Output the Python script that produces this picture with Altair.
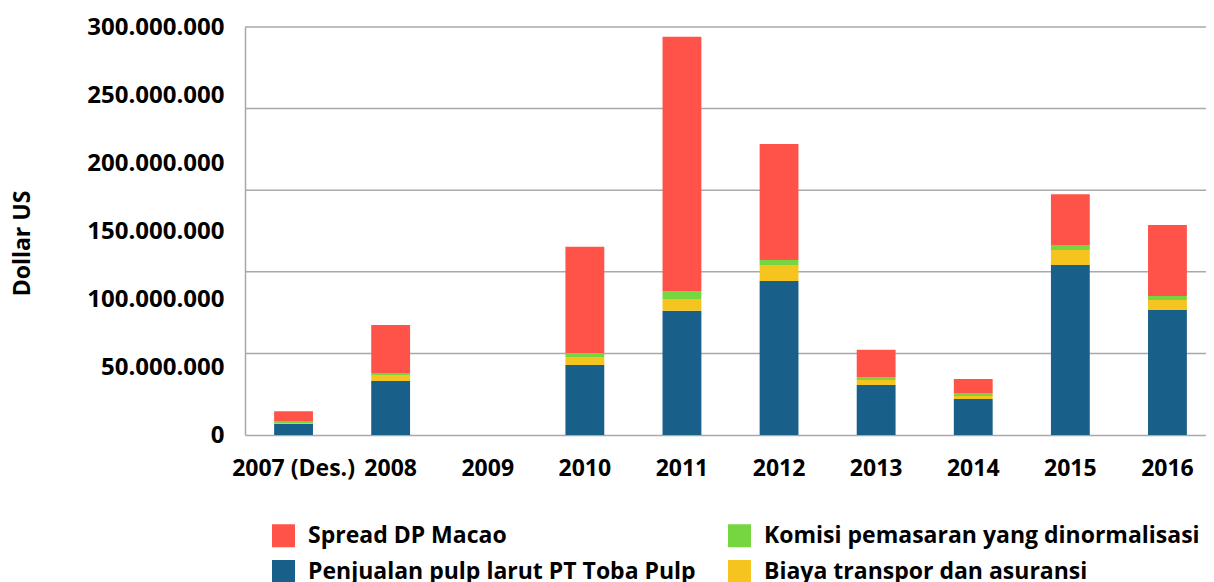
import altair as alt
import pandas as pd

years = ["2007 (Des.)", "2008", "2009", "2010", "2011", "2012", "2013", "2014", "2015", "2016"]
penjualan = [8.1, 39.7, 0, 51.5, 91.4, 113.2, 36.8, 26.5, 125.0, 91.9]
biaya = [0.7, 4.4, 0, 5.8, 8.6, 11.8, 3.7, 2.2, 11.0, 7.3]
komisi = [1.5, 1.5, 0, 3.0, 5.9, 3.7, 1.7, 2.2, 3.7, 3.0]
spread = [7.1, 35.3, 0, 78.1, 186.9, 85.2, 20.4, 10.3, 37.4, 52.2]

# legend order (filled column by column)
series_names = [
    "Spread DP Macao",
    "Penjualan pulp larut PT Toba Pulp",
    "Komisi pemasaran yang dinormalisasi",
    "Biaya transpor dan asuransi",
]
series_colors = ["#FF5349", "#186089", "#76D63F", "#F5C41F"]
stack_rank = {"Penjualan pulp larut PT Toba Pulp": 0, "Biaya transpor dan asuransi": 1,
              "Komisi pemasaran yang dinormalisasi": 2, "Spread DP Macao": 3}
series_values = {
    "Penjualan pulp larut PT Toba Pulp": penjualan,
    "Biaya transpor dan asuransi": biaya,
    "Komisi pemasaran yang dinormalisasi": komisi,
    "Spread DP Macao": spread,
}
y_ticks = [0, 50e6, 100e6, 150e6, 200e6, 250e6, 300e6]
grid_values = [60e6, 120e6, 180e6, 240e6, 300e6]

rows = []
for name, vals in series_values.items():
    for yr, v in zip(years, vals):
        rows.append({"year": yr, "series": name, "value": v * 1e6, "rank": stack_rank[name]})
df = pd.DataFrame(rows)
grid_df = pd.DataFrame({"g": grid_values})

FONT = "Open Sans"
yscale = alt.Scale(domain=[0, 300e6], nice=False)
y_axis = alt.Axis(title="Dollar US", values=y_ticks, grid=False, ticks=False,
                  domainColor="#A9A9A9", domainWidth=1.5, labelPadding=21,
                  labelFontSize=24, labelFontWeight="bold", labelColor="#000000",
                  labelFont=FONT,
                  labelExpr="replace(replace(format(datum.value, ','), ',', '.'), ',', '.')",
                  titleFont=FONT, titleFontSize=23, titleFontWeight="bold",
                  titleColor="#000000", titleX=-211, titleY=216)

grid = alt.Chart(grid_df).mark_rule(color="#A9A9A9", strokeWidth=1.5).encode(
    y=alt.Y("g:Q", scale=yscale, axis=y_axis, title="Dollar US")
)

bars = alt.Chart(df).mark_bar().encode(
    x=alt.X("year:N", sort=years,
            scale=alt.Scale(paddingInner=0.6, paddingOuter=0.3, range=[0, 971]),
            axis=alt.Axis(title=None, labelAngle=0, ticks=False, domainColor="#A9A9A9",
                          domainWidth=1.5, labelPadding=22, labelFontSize=23,
                          labelFontWeight="bold", labelColor="#000000", labelFont=FONT)),
    y=alt.Y("value:Q", stack="zero", scale=yscale, axis=y_axis, title="Dollar US"),
    color=alt.Color("series:N",
                    scale=alt.Scale(domain=series_names, range=series_colors),
                    legend=alt.Legend(title=None, orient="none", legendX=27, legendY=497,
                                      columns=2, columnPadding=32, rowPadding=12,
                                      symbolType="square", symbolSize=529,
                                      symbolStrokeWidth=0, labelFont=FONT,
                                      labelFontSize=23, labelFontWeight="bold",
                                      labelColor="#000000", labelLimit=600, labelOffset=13)),
    order=alt.Order("rank:Q", sort="ascending"),
)

chart = alt.layer(grid, bars).properties(
    width=961, height=408,
    autosize=alt.AutoSizeParams(type="none"),
    padding={"left": 237, "top": 19, "right": 0, "bottom": 160},
).configure_view(stroke=None)

chart.save("out.html", embed_options={"renderer": "svg", "actions": False})
